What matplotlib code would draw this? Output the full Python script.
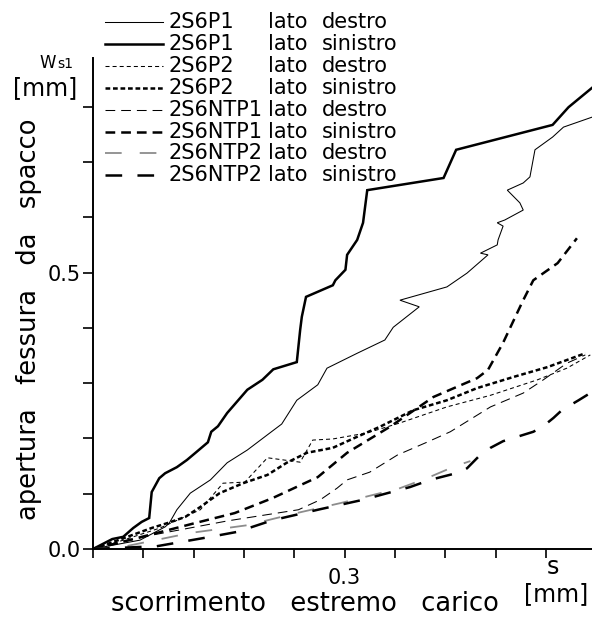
import matplotlib
matplotlib.use('Agg')
import matplotlib.pyplot as plt
from matplotlib.lines import Line2D

plt.rcParams['font.family'] = ['DejaVu Sans']
plt.rcParams['lines.scale_dashes'] = False

# slip at loaded end [mm] vs splitting crack opening [mm]
p1_dx_s = [0, 0.024, 0.056, 0.086, 0.091, 0.100, 0.116, 0.140, 0.160, 0.184, 0.211, 0.225, 0.243,
           0.268, 0.279, 0.315, 0.348, 0.358, 0.389, 0.366, 0.422, 0.446, 0.471, 0.462, 0.482,
           0.483, 0.489, 0.482, 0.491, 0.513, 0.509, 0.494, 0.513, 0.521, 0.527, 0.548, 0.561, 0.595]
p1_dx_w = [0, 0.007, 0.016, 0.040, 0.047, 0.071, 0.101, 0.125, 0.156, 0.179, 0.210, 0.226, 0.269,
           0.297, 0.327, 0.354, 0.378, 0.401, 0.438, 0.450, 0.474, 0.499, 0.532, 0.535, 0.550,
           0.559, 0.584, 0.590, 0.595, 0.613, 0.626, 0.649, 0.662, 0.673, 0.722, 0.745, 0.763, 0.781]

p1_sx_s = [0, 0.023, 0.036, 0.048, 0.058, 0.067, 0.070, 0.079, 0.086, 0.100, 0.112, 0.123, 0.137,
           0.141, 0.149, 0.160, 0.184, 0.202, 0.215, 0.243, 0.247, 0.249, 0.254, 0.286, 0.289,
           0.301, 0.303, 0.315, 0.322, 0.327, 0.418, 0.433, 0.548, 0.567, 0.595]
p1_sx_w = [0, 0.018, 0.022, 0.038, 0.049, 0.056, 0.103, 0.128, 0.137, 0.148, 0.161, 0.175, 0.193,
           0.212, 0.222, 0.246, 0.288, 0.306, 0.325, 0.338, 0.396, 0.420, 0.456, 0.477, 0.486,
           0.505, 0.532, 0.559, 0.590, 0.649, 0.671, 0.722, 0.767, 0.799, 0.834]

p2_dx_s = [0, 0.032, 0.080, 0.128, 0.155, 0.181, 0.208, 0.247, 0.262, 0.286, 0.327, 0.366, 0.422,
           0.474, 0.530, 0.565, 0.593]
p2_dx_w = [0, 0.014, 0.038, 0.071, 0.119, 0.121, 0.165, 0.157, 0.197, 0.199, 0.210, 0.228, 0.257,
           0.278, 0.306, 0.327, 0.351]

p2_sx_s = [0, 0.030, 0.070, 0.089, 0.110, 0.128, 0.151, 0.179, 0.208, 0.231, 0.255, 0.286, 0.315,
           0.342, 0.382, 0.422, 0.458, 0.501, 0.542, 0.587]
p2_sx_w = [0, 0.016, 0.038, 0.047, 0.058, 0.076, 0.101, 0.119, 0.134, 0.156, 0.174, 0.183, 0.203,
           0.221, 0.251, 0.269, 0.291, 0.311, 0.329, 0.354]

ntp1_dx_s = [0, 0.070, 0.161, 0.245, 0.271, 0.291, 0.303, 0.330, 0.363, 0.398, 0.426, 0.474, 0.513,
             0.537, 0.565, 0.587]
ntp1_dx_w = [0, 0.025, 0.051, 0.071, 0.089, 0.110, 0.125, 0.139, 0.170, 0.193, 0.212, 0.257, 0.282,
             0.306, 0.336, 0.351]

ntp1_sx_s = [0, 0.030, 0.089, 0.122, 0.169, 0.214, 0.268, 0.303, 0.354, 0.406, 0.458, 0.471, 0.489,
             0.512, 0.525, 0.554, 0.577]
ntp1_sx_w = [0, 0.011, 0.034, 0.047, 0.065, 0.092, 0.130, 0.174, 0.221, 0.275, 0.309, 0.324, 0.373,
             0.447, 0.486, 0.517, 0.562]

ntp2_dx_s = [0, 0.036, 0.116, 0.184, 0.243, 0.295, 0.366, 0.398, 0.432, 0.450]
ntp2_dx_w = [0, 0.004, 0.029, 0.043, 0.065, 0.083, 0.110, 0.128, 0.150, 0.159]

ntp2_sx_s = [0, 0.076, 0.140, 0.172, 0.214, 0.271, 0.322, 0.351, 0.378, 0.402, 0.438, 0.446, 0.459,
             0.474, 0.489, 0.525, 0.536, 0.549, 0.559, 0.579, 0.595]
ntp2_sx_w = [0, 0.005, 0.022, 0.031, 0.052, 0.072, 0.089, 0.101, 0.112, 0.125, 0.139, 0.146, 0.166,
             0.183, 0.195, 0.212, 0.221, 0.237, 0.251, 0.269, 0.284]

specimens = ['2S6P1', '2S6P1', '2S6P2', '2S6P2', '2S6NTP1', '2S6NTP1', '2S6NTP2', '2S6NTP2']
sides = ['destro', 'sinistro', 'destro', 'sinistro', 'destro', 'sinistro', 'destro', 'sinistro']
xs = [p1_dx_s, p1_sx_s, p2_dx_s, p2_sx_s, ntp1_dx_s, ntp1_sx_s, ntp2_dx_s, ntp2_sx_s]
ys = [p1_dx_w, p1_sx_w, p2_dx_w, p2_sx_w, ntp1_dx_w, ntp1_sx_w, ntp2_dx_w, ntp2_sx_w]

styles = [
    dict(color='black', lw=0.75, ls='-'),
    dict(color='black', lw=1.8, ls='-'),
    dict(color='black', lw=0.75, ls=(0, (2.9, 2.2))),
    dict(color='black', lw=1.8, ls=(0, (3.4, 2.0))),
    dict(color='black', lw=0.75, ls=(0, (7, 4.3))),
    dict(color='black', lw=1.8, ls=(0, (7, 4.3))),
    dict(color='#8c8c8c', lw=1.3, ls=(0, (12, 13))),
    dict(color='black', lw=1.8, ls=(0, (12, 11))),
]

W, H = 592, 624
fig = plt.figure(figsize=(W / 100, H / 100), dpi=100)
ax = fig.add_axes([93 / W, 1 - 549 / H, 1 - 93 / W, (549 - 58) / H])

for sx, wy, st in zip(xs, ys, styles):
    ax.plot(sx, wy, solid_joinstyle='miter', **st)

ax.set_xlim(0, 0.595)
ax.set_ylim(0, 0.888)
ax.spines['top'].set_visible(False)
ax.spines['right'].set_visible(False)
for s in ['left', 'bottom']:
    ax.spines[s].set_linewidth(1.4)

xt = [i * 0.06 for i in range(10)]
ax.set_xticks(xt)
ax.set_xticklabels(['0.3' if abs(v - 0.3) < 1e-9 else '' for v in xt], fontsize=15)
yt = [i * 0.1 for i in range(9)]
ax.set_yticks(yt)
ax.set_yticklabels(['0.0' if i == 0 else ('0.5' if i == 5 else '') for i in range(9)], fontsize=15)
ax.tick_params(axis='x', direction='out', length=6.5, width=1.2, pad=7)
ax.tick_params(axis='y', direction='out', length=7, width=1.2, pad=2)

# axis titles
fig.text(305 / W, 1 - 604 / H, 'scorrimento   estremo   carico', fontsize=18.5, ha='center', va='center')
fig.text(553 / W, 1 - 567 / H, 's', fontsize=17, ha='center', va='center')
fig.text(556 / W, 1 - 594 / H, '[mm]', fontsize=17, ha='center', va='center')
fig.text(29 / W, 1 - 319 / H, 'apertura   fessura   da   spacco', fontsize=18.5, rotation=90,
         ha='center', va='center')
fig.text(48 / W, 1 - 63 / H, 'W', fontsize=12, ha='center', va='center')
fig.text(65 / W, 1 - 64 / H, 's1', fontsize=10, ha='center', va='center')
fig.text(45 / W, 1 - 88 / H, '[mm]', fontsize=17, ha='center', va='center')

# legend
row_y = [22, 44, 66, 88, 110, 132, 153, 175]
for yy, name, side, st in zip(row_y, specimens, sides, styles):
    fig.add_artist(Line2D([105 / W, 163 / W], [1 - yy / H, 1 - yy / H],
                          transform=fig.transFigure, **st))
    fig.text(169 / W, 1 - yy / H, name, fontsize=15, ha='left', va='center')
    fig.text(268 / W, 1 - yy / H, 'lato', fontsize=15, ha='left', va='center')
    fig.text(322 / W, 1 - yy / H, side, fontsize=15, ha='left', va='center')

fig.savefig('out.png', dpi=100)
